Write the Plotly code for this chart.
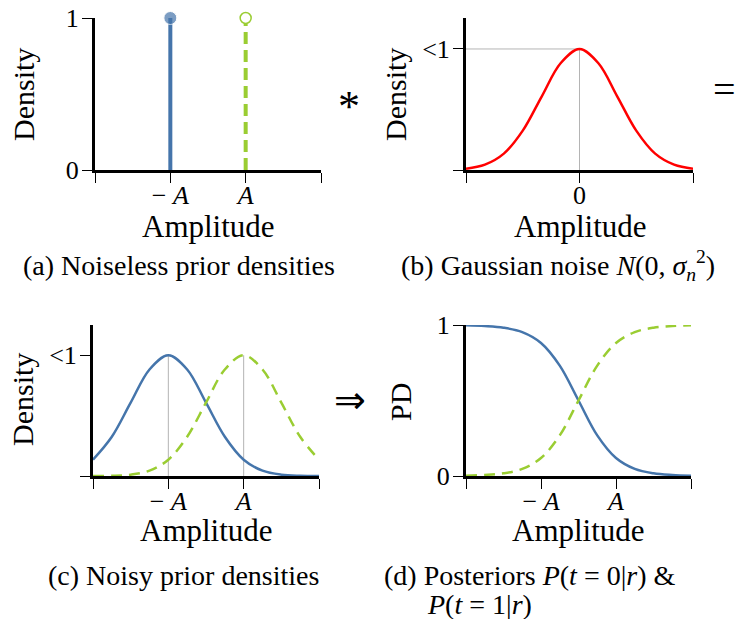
import plotly.graph_objects as go

# ---------------- data ----------------
x_vals = [-3, -2.5, -2, -1.5, -1, -0.5, 0, 0.5, 1, 1.5, 2, 2.5, 3]

# (a) noiseless prior (stems)
stem_x = [-1, 1]
stem_h = [1, 1]

# (b) Gaussian noise density (peak normalised)
noise_density = [0.011, 0.044, 0.135, 0.325, 0.607, 0.882, 1.0, 0.882, 0.607, 0.325, 0.135, 0.044, 0.011]

# (c) noisy prior densities
noisy_neg = [0.135, 0.325, 0.607, 0.882, 1.0, 0.882, 0.607, 0.325, 0.135, 0.044, 0.011, 0.002, 0.0003]
noisy_pos = [0.0003, 0.002, 0.011, 0.044, 0.135, 0.325, 0.607, 0.882, 1.0, 0.882, 0.607, 0.325, 0.135]

# (d) posteriors
post_neg = [0.998, 0.993, 0.982, 0.953, 0.881, 0.731, 0.5, 0.269, 0.119, 0.047, 0.018, 0.007, 0.002]
post_pos = [0.002, 0.007, 0.018, 0.047, 0.119, 0.269, 0.5, 0.731, 0.881, 0.953, 0.982, 0.993, 0.998]

x_ticks_a = [-3, -1, 1, 3]
x_ticklabels_a = ["", "\u2212 <i>A</i>", "<i>A</i>", ""]
x_ticks_b = [-3, 0, 3]
x_ticklabels_b = ["", "0", ""]

# ---------------- style ----------------
BLUE = "#4575ab"
GREEN = "#9acd32"
RED = "#ff0000"
GRID = "#b4b4b4"
FONT = "Liberation Serif"
W, H = 735, 619

def px_x(a, b):
    return [a / W, b / W]

def px_y(top, bottom):
    return [1 - bottom / H, 1 - top / H]

fig = go.Figure()

# (a)
fig.add_trace(go.Scatter(x=[stem_x[0], stem_x[0]], y=[0, stem_h[0]], mode="lines+markers",
                         line=dict(color=BLUE, width=4), marker=dict(size=[0, 13], color=BLUE),
                         xaxis="x", yaxis="y", cliponaxis=False))
fig.add_trace(go.Scatter(x=[stem_x[1], stem_x[1]], y=[0, stem_h[1]], mode="lines",
                         line=dict(color=GREEN, width=4, dash="12px,6px"),
                         xaxis="x", yaxis="y", cliponaxis=False))
fig.add_trace(go.Scatter(x=[stem_x[1]], y=[stem_h[1]], mode="markers",
                         marker=dict(size=11, color="white", line=dict(color=GREEN, width=1.5)),
                         xaxis="x", yaxis="y", cliponaxis=False))

# (b)
peak_b = max(noise_density)
x_peak_b = x_vals[noise_density.index(peak_b)]
fig.add_trace(go.Scatter(x=[x_vals[0], x_peak_b], y=[peak_b, peak_b], mode="lines",
                         line=dict(color=GRID, width=1), xaxis="x2", yaxis="y2"))
fig.add_trace(go.Scatter(x=[x_peak_b, x_peak_b], y=[0, peak_b], mode="lines",
                         line=dict(color=GRID, width=1), xaxis="x2", yaxis="y2"))
fig.add_trace(go.Scatter(x=x_vals, y=noise_density, mode="lines", line=dict(color=RED, width=2.5, shape="spline"),
                         xaxis="x2", yaxis="y2", cliponaxis=False))

# (c)
for series in (noisy_neg, noisy_pos):
    pk = max(series)
    xp = x_vals[series.index(pk)]
    fig.add_trace(go.Scatter(x=[xp, xp], y=[0, pk], mode="lines",
                             line=dict(color=GRID, width=1), xaxis="x3", yaxis="y3"))
fig.add_trace(go.Scatter(x=x_vals, y=noisy_neg, mode="lines", line=dict(color=BLUE, width=2.5, shape="spline"),
                         xaxis="x3", yaxis="y3", cliponaxis=False))
fig.add_trace(go.Scatter(x=x_vals, y=noisy_pos, mode="lines",
                         line=dict(color=GREEN, width=2.5, shape="spline", dash="11px,7px"),
                         xaxis="x3", yaxis="y3", cliponaxis=False))

# (d)
fig.add_trace(go.Scatter(x=x_vals, y=post_neg, mode="lines", line=dict(color=BLUE, width=2.5, shape="spline"),
                         xaxis="x4", yaxis="y4", cliponaxis=False))
fig.add_trace(go.Scatter(x=x_vals, y=post_pos, mode="lines",
                         line=dict(color=GREEN, width=2.5, shape="spline", dash="11px,7px"),
                         xaxis="x4", yaxis="y4", cliponaxis=False))

axis_common = dict(showline=True, linewidth=3, linecolor="black", ticks="outside", ticklen=10,
                   tickwidth=1, tickcolor="black", showgrid=False, zeroline=False, automargin=False,
                   tickfont=dict(family=FONT, size=26, color="black"), fixedrange=True)
xaxis_extra = dict(ticklabelstandoff=-10)
yaxis_extra = dict(ticklabelstandoff=-2)

fig.update_layout(
    template="none",
    width=W, height=H, margin=dict(l=0, r=0, t=0, b=0, pad=0, autoexpand=False),
    paper_bgcolor="white", plot_bgcolor="white", showlegend=False,
    font=dict(family=FONT, color="black"),
    xaxis=dict(domain=px_x(95, 321), range=[-3, 3], tickmode="array", tickvals=x_ticks_a,
               ticktext=x_ticklabels_a, anchor="y", **axis_common, **xaxis_extra),
    yaxis=dict(domain=px_y(18, 170), range=[0, 1], tickmode="array", tickvals=[0, 1],
               ticktext=["0", "1"], anchor="x", **axis_common, **yaxis_extra),
    xaxis2=dict(domain=px_x(466, 693), range=[-3, 3], tickmode="array", tickvals=x_ticks_b,
                ticktext=x_ticklabels_b, anchor="y2", **axis_common, **xaxis_extra),
    yaxis2=dict(domain=px_y(18, 170), range=[0, 1.256], tickmode="array", tickvals=[0, 1],
                ticktext=["", "&lt;1"], anchor="x2", **axis_common, **yaxis_extra),
    xaxis3=dict(domain=px_x(93, 319), range=[-3, 3], tickmode="array", tickvals=x_ticks_a,
                ticktext=x_ticklabels_a, anchor="y3", **axis_common, **xaxis_extra),
    yaxis3=dict(domain=px_y(325, 476), range=[0, 1.25], tickmode="array", tickvals=[0, 1],
                ticktext=["", "&lt;1"], anchor="x3", **axis_common, **yaxis_extra),
    xaxis4=dict(domain=px_x(466, 691), range=[-3, 3], tickmode="array", tickvals=x_ticks_a,
                ticktext=x_ticklabels_a, anchor="y4", **axis_common, **xaxis_extra),
    yaxis4=dict(domain=px_y(325, 476), range=[0, 1], tickmode="array", tickvals=[0, 1],
                ticktext=["0", "1"], anchor="x4", **axis_common, **yaxis_extra),
)

def ann(text, x, y, size, angle=0, xanchor="center"):
    fig.add_annotation(text=text, x=x / W, y=1 - y / H, xref="paper", yref="paper",
                       showarrow=False, textangle=angle, xanchor=xanchor, yanchor="middle",
                       font=dict(family=FONT, size=size, color="black"))

# axis titles
ann("Density", 24, 95, 30, -90)
ann("Density", 396, 95, 30, -90)
ann("Density", 22, 400, 30, -90)
ann("PD", 400, 402, 30, -90)
ann("Amplitude", 208, 226, 31)
ann("Amplitude", 580, 226, 31)
ann("Amplitude", 206, 530, 31)
ann("Amplitude", 578, 530, 31)

# captions
ann("(a) Noiseless prior densities", 179, 265, 28)
ann("(b) Gaussian noise <i>N</i>(0, <i>\u03c3</i><sub><i>n</i></sub><sup>2</sup>)", 558, 265, 28)
ann("(c) Noisy prior densities", 183, 575, 28)
ann("(d) Posteriors <i>P</i>(<i>t</i> = 0|<i>r</i>) &amp;", 382, 575, 28, xanchor="left")
ann("<i>P</i>(<i>t</i> = 1|<i>r</i>)", 425, 604, 28, xanchor="left")

# operators between panels
ann("*", 349, 107, 44)
ann("=", 724, 90, 40)
ann("\u21d2", 350, 400, 38)

fig.write_html("out.html")
